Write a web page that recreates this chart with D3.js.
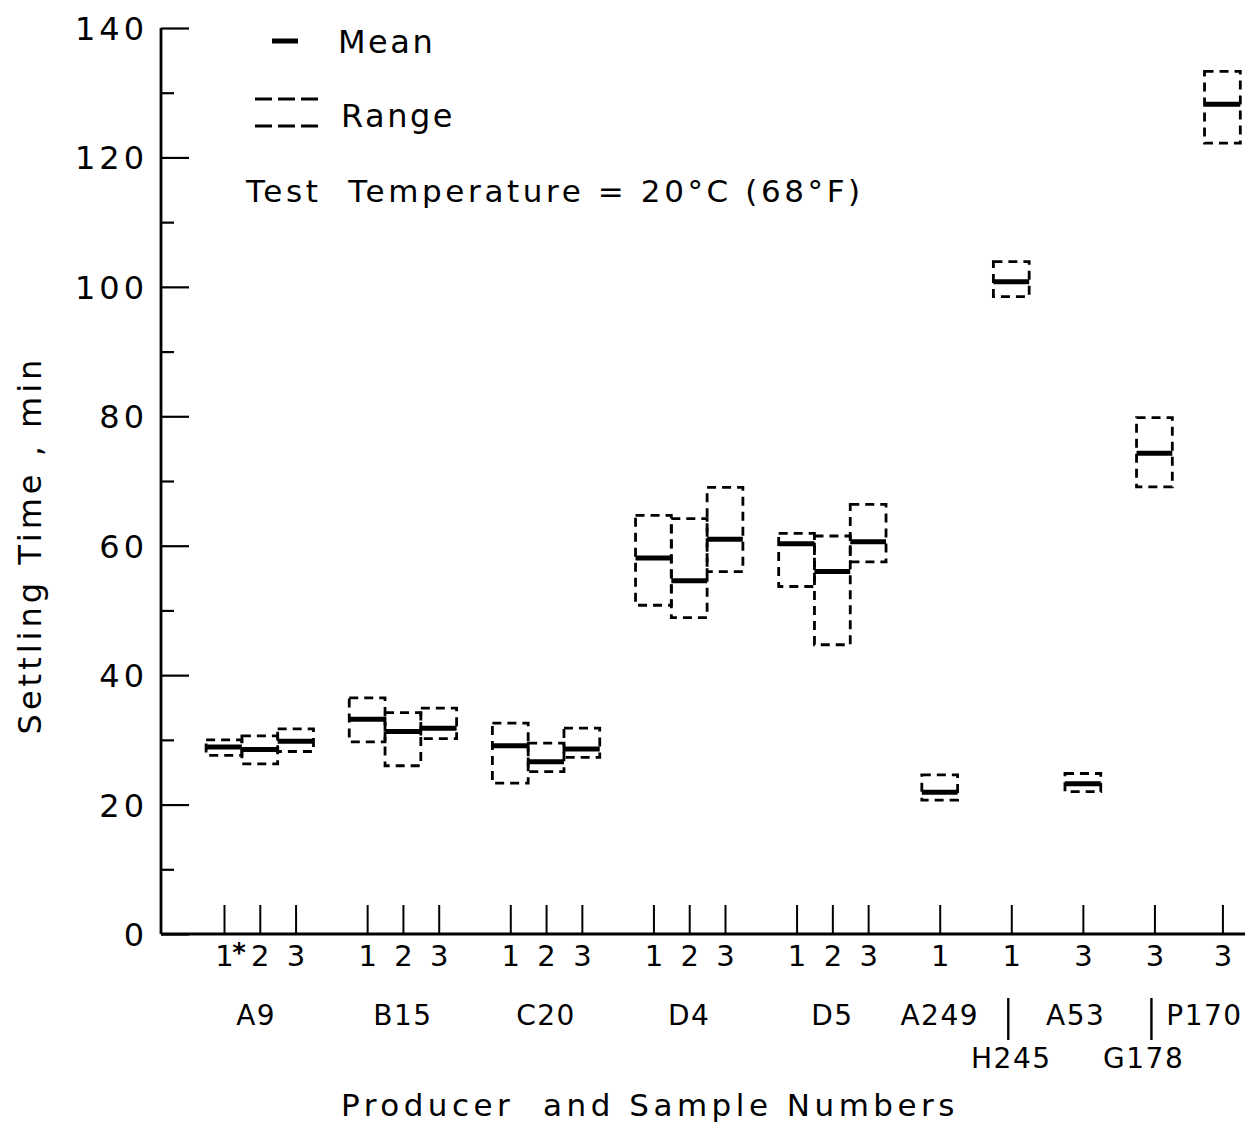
<!DOCTYPE html>
<html>
<head>
<meta charset="utf-8">
<script src="https://cdn.jsdelivr.net/npm/d3@7"></script>
<style>
  body { margin: 0; background: #fff; }
  svg { display: block; }
  text { font-family: "DejaVu Sans", sans-serif; fill: #000; }
</style>
</head>
<body>
<svg id="chart" width="1249" height="1125"></svg>
<script>
// ---- data ----
const groupOf   = ["A9","A9","A9","B15","B15","B15","C20","C20","C20","D4","D4","D4","D5","D5","D5","A249","H245","A53","G178","P170"];
const sampleNo  = ["1","2","3","1","2","3","1","2","3","1","2","3","1","2","3","1","1","3","3","3"];
const slot      = [0,1,2,4,5,6,8,9,10,12,13,14,16,17,18,20,22,24,26,27.9];
const meanVals  = [28.9,28.5,29.8,33.2,31.3,31.8,29.1,26.6,28.6,58.1,54.6,61.0,60.3,56.0,60.6,21.9,100.8,23.2,74.3,128.2];
const lowVals   = [27.6,26.3,28.2,29.7,26.0,30.2,23.3,25.1,27.3,50.8,48.9,56.0,53.7,44.7,57.5,20.7,98.5,22.0,69.1,122.2];
const highVals  = [30.0,30.6,31.7,36.5,34.2,34.9,32.6,29.5,31.8,64.7,64.2,69.0,61.9,61.5,66.4,24.6,103.9,24.8,79.8,133.3];

const groupNames = ["A9","B15","C20","D4","D5","A249","H245","A53","G178","P170"];
const groupSlot  = [0.9,5,9,13,17,20,22,23.8,25.7,27.4];
const groupRow   = [0,0,0,0,0,0,1,0,1,0];
const yMajorTicks = [0,20,40,60,80,100,120,140];
const yMinorTicks = [10,30,50,70,90,110,130];

// ---- layout ----
const svg = d3.select("#chart");
const axisX0 = 161, axisX1 = 1245, baseY = 934, topY = 28;
const x = d3.scaleLinear().domain([0, 28]).range([224, 1226]);
const y = d3.scaleLinear().domain([0, 140]).range([baseY, topY]);
const half = (x(1) - x(0)) / 2;

// y axis
const gy = svg.append("g").attr("transform", `translate(${axisX0},0)`);
gy.call(d3.axisLeft(y).tickValues(yMajorTicks).tickSize(-28).tickPadding(13).tickFormat(d3.format("d")));
gy.select(".domain").remove();
gy.selectAll(".tick line").attr("stroke", "#000").attr("stroke-width", 2.2);
gy.selectAll(".tick text").style("font-size", "32px").style("letter-spacing", "4px").attr("dy", "0.36em");
const gym = svg.append("g").attr("transform", `translate(${axisX0},0)`);
gym.call(d3.axisLeft(y).tickValues(yMinorTicks).tickSize(-13).tickFormat(""));
gym.select(".domain").remove();
gym.selectAll(".tick line").attr("stroke", "#000").attr("stroke-width", 2.2);

svg.append("line").attr("x1", axisX0).attr("x2", axisX0).attr("y1", topY).attr("y2", baseY)
  .attr("stroke", "#000").attr("stroke-width", 2.8);
svg.append("line").attr("x1", axisX0).attr("x2", axisX1).attr("y1", baseY).attr("y2", baseY)
  .attr("stroke", "#000").attr("stroke-width", 2.8);

// x axis ticks
const gx = svg.append("g").attr("transform", `translate(0,${baseY})`);
gx.call(d3.axisBottom(x).tickValues(slot).tickSize(-29).tickPadding(11).tickFormat((d, i) => sampleNo[i]));
gx.select(".domain").remove();
gx.selectAll(".tick line").attr("stroke", "#000").attr("stroke-width", 2);
gx.selectAll(".tick text").style("font-size", "29px");

// asterisk
svg.append("text").attr("x", x(0) + 15).attr("y", baseY + 28)
  .attr("text-anchor", "middle").style("font-size", "26px").style("font-weight", "bold").text("*");

// group labels
groupNames.forEach((g, i) => {
  const gxp = x(groupSlot[i]);
  const yy = groupRow[i] === 0 ? 1025 : 1068;
  svg.append("text").attr("x", gxp).attr("y", yy).attr("text-anchor", "middle")
    .style("font-size", "28px").style("letter-spacing", "1.5px").text(g);
  if (groupRow[i] === 1) {
    const si = groupOf.indexOf(g);
    svg.append("line").attr("x1", x(slot[si]) - 3).attr("x2", x(slot[si]) - 3)
      .attr("y1", 998).attr("y2", 1040).attr("stroke", "#000").attr("stroke-width", 2.4);
  }
});

// axis titles
svg.append("text").attr("x", 650).attr("y", 1116).attr("text-anchor", "middle")
  .style("font-size", "31px").style("letter-spacing", "4.5px").attr("xml:space", "preserve")
  .text("Producer  and Sample Numbers");
svg.append("text").attr("transform", "translate(41,545) rotate(-90)").attr("text-anchor", "middle")
  .style("font-size", "32px").style("letter-spacing", "4px").text("Settling Time , min");

// range boxes
svg.append("g").selectAll("rect").data(slot).join("rect")
  .attr("x", d => x(d) - half)
  .attr("width", half * 2)
  .attr("y", (d, i) => y(highVals[i]))
  .attr("height", (d, i) => y(lowVals[i]) - y(highVals[i]))
  .attr("fill", "none").attr("stroke", "#000").attr("stroke-width", 2.8)
  .attr("stroke-dasharray", "9,6");

// mean lines
svg.append("g").selectAll("line").data(slot).join("line")
  .attr("x1", d => x(d) - half).attr("x2", d => x(d) + half)
  .attr("y1", (d, i) => y(meanVals[i])).attr("y2", (d, i) => y(meanVals[i]))
  .attr("stroke", "#000").attr("stroke-width", 5);

// legend
svg.append("line").attr("x1", 272).attr("x2", 298).attr("y1", 41).attr("y2", 41)
  .attr("stroke", "#000").attr("stroke-width", 5);
svg.append("text").attr("x", 338).attr("y", 53).style("font-size", "32px").style("letter-spacing", "2.5px").text("Mean");
[99, 126].forEach(yy => {
  svg.append("line").attr("x1", 255).attr("x2", 318).attr("y1", yy).attr("y2", yy)
    .attr("stroke", "#000").attr("stroke-width", 2.8).attr("stroke-dasharray", "17,6");
});
svg.append("text").attr("x", 341).attr("y", 127).style("font-size", "32px").style("letter-spacing", "2.5px").text("Range");
svg.append("text").attr("x", 246).attr("y", 202).style("font-size", "31px").style("letter-spacing", "3.6px")
  .attr("xml:space", "preserve").text("Test  Temperature = 20°C (68°F)");
</script>
</body>
</html>
